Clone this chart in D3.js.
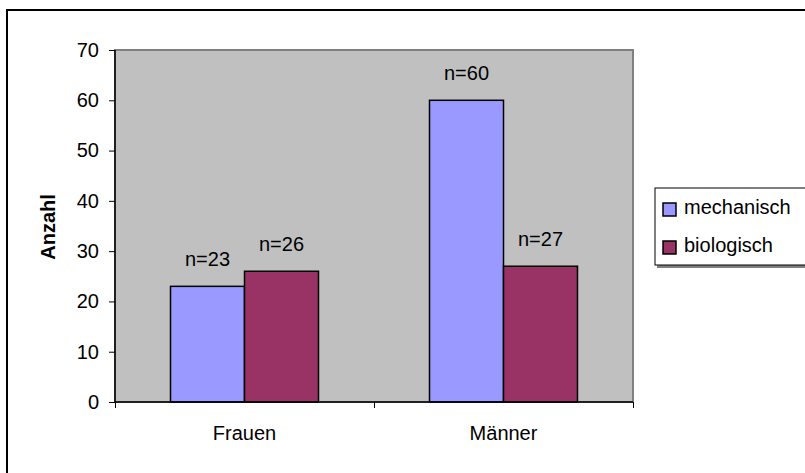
<!DOCTYPE html>
<html>
<head>
<meta charset="utf-8">
<script src="https://cdn.jsdelivr.net/npm/d3@7"></script>
<style>
  body { margin: 0; background: #ffffff; }
  svg { display: block; font-family: "Liberation Sans", Arial, sans-serif; }
</style>
</head>
<body>
<div id="container"></div>
<script>
/* DATA */
const categories = ["Frauen", "Männer"];
const seriesNames = ["mechanisch", "biologisch"];
const mechanisch = [23, 60];
const biologisch = [26, 27];
const yTicks = [0, 10, 20, 30, 40, 50, 60, 70];
const seriesColors = ["#9999FF", "#993366"];

/* CONSTANTS */
const width = 805, height = 473;
const plot = { left: 115, right: 633, top: 50, bottom: 402 };

const svg = d3.select("#container")
  .append("svg")
  .attr("width", width)
  .attr("height", height);

// outer chart border (only left/top fall inside the picture)
svg.append("rect")
  .attr("x", 7).attr("y", 10)
  .attr("width", 900).attr("height", 600)
  .attr("fill", "none")
  .attr("stroke", "#000")
  .attr("stroke-width", 2);

/* SCALES */
const x0 = d3.scaleBand()
  .domain(categories)
  .range([plot.left, plot.right])
  .paddingInner(0).paddingOuter(0);

const x1 = d3.scaleBand()
  .domain(seriesNames)
  .range([0, x0.bandwidth()])
  .paddingInner(0).paddingOuter(0.75);

const y = d3.scaleLinear()
  .domain([0, 70])
  .range([plot.bottom, plot.top]);

/* PLOT AREA */
svg.append("rect")
  .attr("x", plot.left).attr("y", plot.top)
  .attr("width", plot.right - plot.left)
  .attr("height", plot.bottom - plot.top)
  .attr("fill", "#C0C0C0")
  .attr("stroke", "#808080")
  .attr("stroke-width", 2);

/* BARS */
const rows = categories.map((c, i) => ({ cat: c, values: [mechanisch[i], biologisch[i]] }));

const groups = svg.selectAll("g.group")
  .data(rows)
  .join("g")
  .attr("class", "group")
  .attr("transform", d => `translate(${x0(d.cat)},0)`);

groups.selectAll("rect")
  .data(d => d.values.map((v, j) => ({ key: seriesNames[j], value: v, color: seriesColors[j] })))
  .join("rect")
  .attr("x", d => x1(d.key))
  .attr("y", d => y(d.value))
  .attr("width", x1.bandwidth())
  .attr("height", d => y(0) - y(d.value))
  .attr("fill", d => d.color)
  .attr("stroke", "#000")
  .attr("stroke-width", 1.5);

groups.selectAll("text")
  .data(d => d.values.map((v, j) => ({ key: seriesNames[j], value: v })))
  .join("text")
  .attr("x", d => x1(d.key) + x1.bandwidth() / 2)
  .attr("y", d => y(d.value) - 20)
  .attr("text-anchor", "middle")
  .attr("font-size", 20)
  .attr("fill", "#000")
  .text(d => "n=" + d.value);

/* AXES */
const yAxis = d3.axisLeft(y)
  .tickValues(yTicks)
  .tickSize(6)
  .tickPadding(10);

const gy = svg.append("g")
  .attr("transform", `translate(${plot.left},0)`)
  .call(yAxis);
gy.select(".domain").attr("stroke", "#000").attr("stroke-width", 1.5)
  .attr("d", `M0,${plot.top}V${plot.bottom}`);
gy.selectAll(".tick line").attr("stroke", "#000");
gy.selectAll(".tick text")
  .attr("font-size", 20)
  .attr("font-family", "Liberation Sans, Arial, sans-serif")
  .attr("fill", "#000");

const xAxisScale = d3.scalePoint()
  .domain(["a", "b", "c"])
  .range([plot.left, plot.right]);
const gx = svg.append("g")
  .attr("transform", `translate(0,${plot.bottom})`)
  .call(d3.axisBottom(xAxisScale).tickSize(6).tickFormat(""));
gx.select(".domain").attr("stroke", "#000").attr("stroke-width", 1.5)
  .attr("d", `M${plot.left},0H${plot.right}`);
gx.selectAll(".tick line").attr("stroke", "#000");

svg.selectAll("text.xlabel")
  .data(categories)
  .join("text")
  .attr("class", "xlabel")
  .attr("x", d => x0(d) + x0.bandwidth() / 2)
  .attr("y", 440)
  .attr("text-anchor", "middle")
  .attr("font-size", 20)
  .text(d => d);

// y axis title
svg.append("text")
  .attr("transform", `translate(55,227) rotate(-90)`)
  .attr("text-anchor", "middle")
  .attr("font-size", 20)
  .attr("font-weight", "bold")
  .text("Anzahl");

/* LEGEND */
const legend = svg.append("g").attr("transform", "translate(655,188)");
legend.append("rect")
  .attr("x", 2).attr("y", 2)
  .attr("width", 170).attr("height", 78)
  .attr("fill", "#808080");
legend.append("rect")
  .attr("x", 0).attr("y", 0)
  .attr("width", 170).attr("height", 77)
  .attr("fill", "#fff")
  .attr("stroke", "#000")
  .attr("stroke-width", 1);

const items = legend.selectAll("g.item")
  .data(seriesNames)
  .join("g")
  .attr("class", "item")
  .attr("transform", (d, i) => `translate(8,${15 + i * 38})`);
items.append("rect")
  .attr("width", 13).attr("height", 13)
  .attr("fill", (d, i) => seriesColors[i])
  .attr("stroke", "#000")
  .attr("stroke-width", 1.5);
items.append("text")
  .attr("x", 21)
  .attr("y", 11)
  .attr("font-size", 20)
  .text(d => d);
</script>
</body>
</html>
